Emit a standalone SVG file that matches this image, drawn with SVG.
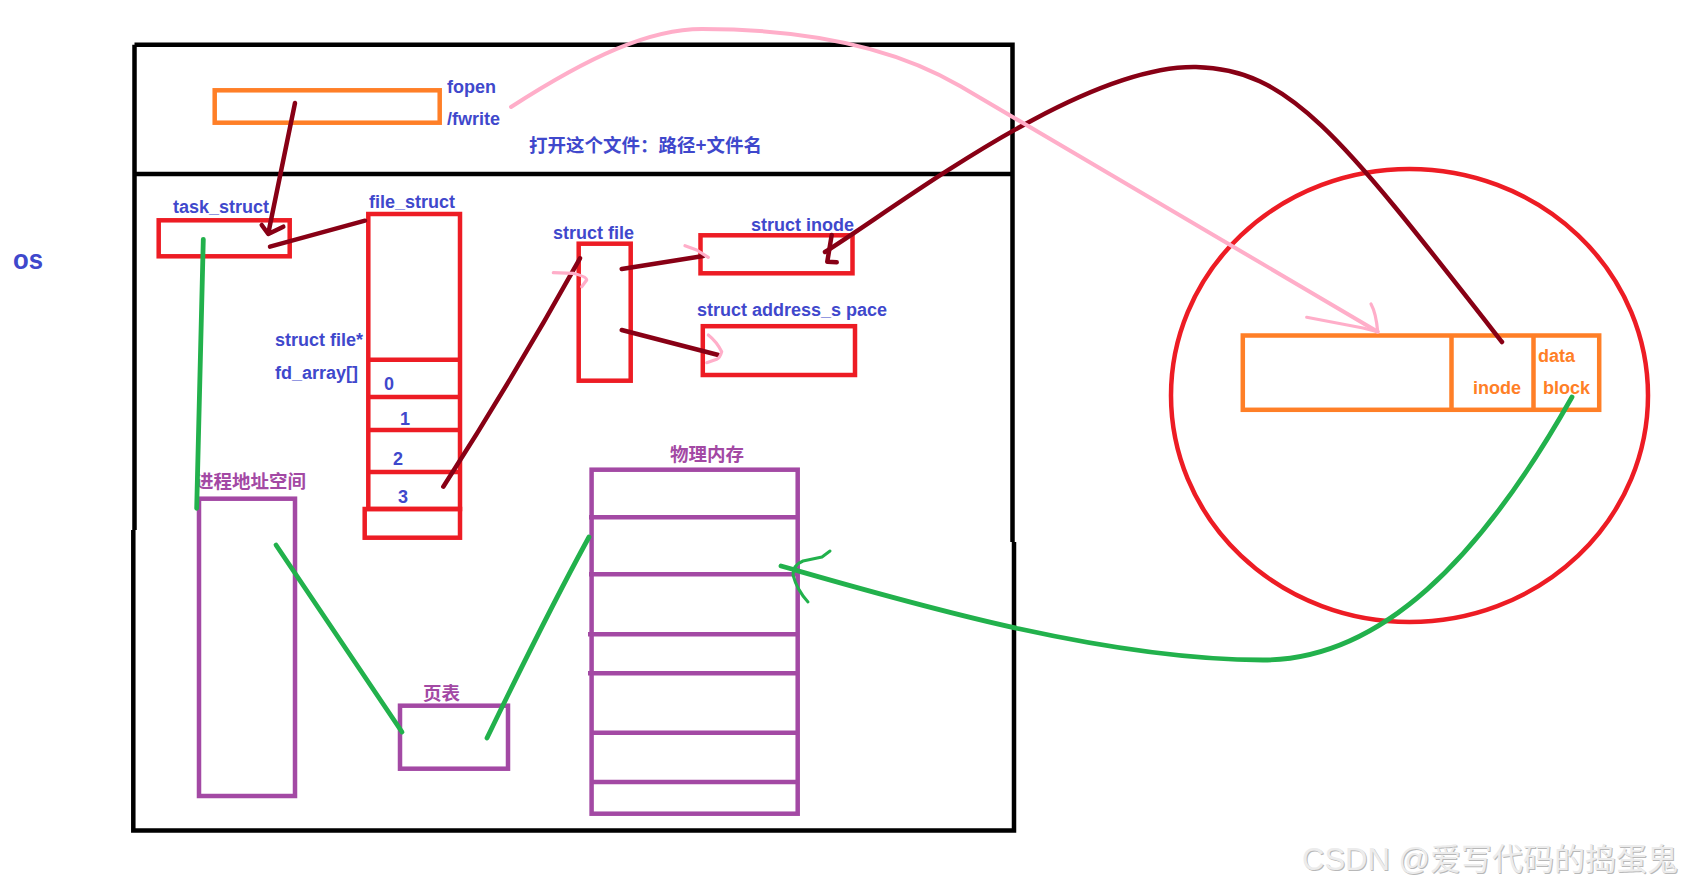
<svg xmlns="http://www.w3.org/2000/svg" width="1688" height="888" viewBox="0 0 1688 888">
<style>
.lbl{font-family:"Liberation Sans","Noto Sans CJK SC",sans-serif;font-weight:bold;font-size:18px;fill:#3f48cc}
.cn{font-family:"Noto Sans CJK SC","Liberation Sans",sans-serif;font-weight:bold;font-size:18.5px}
.ol{font-family:"Liberation Sans",sans-serif;font-weight:bold;font-size:18px;fill:#ff7f27}
.red{fill:none;stroke:#ed1c24;stroke-width:4.5}
.pur{fill:none;stroke:#a349a4;stroke-width:4.5}
.org{fill:none;stroke:#ff7f27;stroke-width:4.5}
.blk{fill:none;stroke:#000;stroke-width:4.5}
.dr{fill:none;stroke:#880015;stroke-width:4.5;stroke-linecap:round;stroke-linejoin:round}
.gr{fill:none;stroke:#22b14c;stroke-width:4.8;stroke-linecap:round;stroke-linejoin:round}
.grt{fill:none;stroke:#22b14c;stroke-width:3;stroke-linecap:round;stroke-linejoin:round}
.pk{fill:none;stroke:#ffaec9;stroke-width:4;stroke-linecap:round;stroke-linejoin:round}
.pkt{fill:none;stroke:#ffaec9;stroke-width:3.2;stroke-linecap:round;stroke-linejoin:round}
.wm{font-family:"Liberation Sans","Noto Sans CJK SC",sans-serif;font-size:31px}
</style>
<rect width="1688" height="888" fill="#fff"/>

<g id="os-box">
<path class="blk" d="M134.5,44.7 H1012.5 V542 M1014,542 V830.5 H133.3 V530 M134.5,530 V44.7"/>
<line class="blk" x1="133" y1="174" x2="1012.5" y2="174"/>
</g>
<g id="os-label">
<text x="13" y="269" font-family="Liberation Sans, sans-serif" font-weight="bold" font-size="27" fill="#3f48cc" textLength="30" lengthAdjust="spacingAndGlyphs">os</text>
</g>

<g id="fopen">
<rect class="org" x="214.7" y="90.3" width="225" height="32.4"/>
<text class="lbl" x="447" y="93">fopen</text>
<text class="lbl" x="447" y="125">/fwrite</text>
<text class="cn" x="529" y="152" fill="#3f48cc">打开这个文件：路径+文件名</text>
</g>

<g id="task_struct">
<rect class="red" x="158.7" y="220.3" width="131" height="36"/>
<text class="lbl" x="173" y="213" font-size="17.5">task_struct</text>
</g>

<g id="file_struct">
<rect class="red" x="368.3" y="214" width="91.7" height="295"/>
<path class="red" d="M368.3,359.7 H460 M368.3,397 H460 M368.3,430 H460 M368.3,472 H460"/>
<rect class="red" x="364.7" y="509" width="95.3" height="28.7"/>
<text class="lbl" x="369" y="208">file_struct</text>
<text class="lbl" x="275" y="346">struct file*</text>
<text class="lbl" x="275" y="379">fd_array[]</text>
<text class="lbl" x="384" y="390" font-size="17">0</text>
<text class="lbl" x="400" y="425" font-size="17">1</text>
<text class="lbl" x="393" y="465" font-size="17">2</text>
<text class="lbl" x="398" y="503" font-size="17">3</text>
</g>

<g id="struct_file">
<rect class="red" x="578.7" y="243.7" width="52" height="137"/>
<text class="lbl" x="553" y="239">struct file</text>
</g>

<g id="struct_inode">
<rect class="red" x="700.5" y="235.3" width="152" height="38"/>
<text class="lbl" x="751" y="231">struct inode</text>
</g>

<g id="struct_address_space">
<rect class="red" x="702.8" y="326.2" width="152.2" height="48.8"/>
<text class="lbl" x="697" y="316" font-size="17.5">struct address_s pace</text>
</g>

<g id="address_space">
<rect class="pur" x="199" y="498.7" width="96" height="297.3"/>
<text class="cn" x="195" y="488" fill="#a349a4">进程地址空间</text>
</g>

<g id="page_table">
<rect class="pur" x="400" y="705.7" width="108" height="63"/>
<text class="cn" x="423" y="700" fill="#a349a4">页表</text>
</g>

<g id="physical_memory">
<rect class="pur" x="591.6" y="469.7" width="206.1" height="344"/>
<path class="pur" d="M589,517.3 H798 M589,574.3 H798 M588,634.3 H798 M588,673.3 H798 M590,732.7 H798 M590,782 H798"/>
<text class="cn" x="670" y="461" fill="#a349a4">物理内存</text>
</g>

<g id="disk">
<ellipse cx="1409.5" cy="395.5" rx="238.5" ry="226.5" fill="none" stroke="#ed1c24" stroke-width="4.5"/>
<rect class="org" x="1242.8" y="335.5" width="356.4" height="74.3" stroke-width="5"/>
<path class="org" stroke-width="5" d="M1451.5,335.5 V409.8 M1533.5,335.5 V409.8"/>
<text class="ol" x="1473" y="394">inode</text>
<text class="ol" x="1538" y="362">data</text>
<text class="ol" x="1543" y="394">block</text>
</g>

<g id="connectors">
<path class="dr" d="M295,103 L268.3,233.3 M261.7,225 L268.3,234 L283.3,226.7"/>
<path class="dr" d="M270,246.7 L365,220.7"/>
<path class="dr" d="M443.3,486.7 Q515,375 580,258.3"/>
<path class="pkt" d="M553.3,272.7 L573.3,273.3 Q586.7,276.7 586.7,280 L581.7,286.7"/>
<path class="dr" d="M621.7,269 L703.3,256"/>
<path class="pkt" d="M685,245.7 L696.7,250 L708.3,257.3"/>
<path class="dr" d="M621.7,330 L718.3,355"/>
<path class="pkt" d="M708.3,335 Q716.7,341.7 721.7,351.7 Q720,358 716.7,359.3 L706.7,362.7"/>
<path class="dr" d="M825,252 C900,205 1080,65 1196,67 C1290,69 1340,135 1502,342"/>
<path class="dr" d="M831.7,235 L827.3,261.7 L836.7,262.3"/>
<path class="pk" d="M511,107 C590,56 650,29 702,29 C790,29 885,42 960,86 L1377.7,331.7"/>
<path class="pkt" d="M1306.7,317.3 Q1336.7,323 1363,328 L1377.7,331.7 M1371,304 Q1376,313 1377.7,331.7"/>
<path class="gr" d="M203.3,239.3 Q200,380 196.7,508.3"/>
<path class="gr" d="M276,545 L402,732"/>
<path class="gr" d="M487,738 Q548,612 589,537"/>
<path class="gr" d="M1572,397 C1480,560 1380,660 1263,660 C1100,660 900,600 781,566"/>
<path class="grt" d="M830,551 L822,557 L803,561 Q793,565 793,575 Q797,590 808,602"/>
</g>

<g id="watermark">
<text class="wm" x="1303" y="871" fill="#b8b8b8">CSDN @爱写代码的捣蛋鬼</text>
<text class="wm" x="1302" y="870" fill="#ececec">CSDN @爱写代码的捣蛋鬼</text>
</g>
</svg>
